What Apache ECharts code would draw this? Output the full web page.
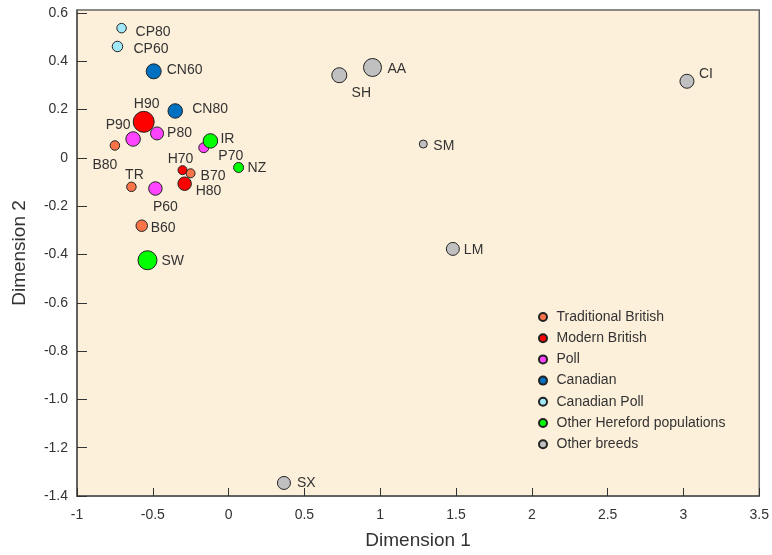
<!DOCTYPE html>
<html>
<head>
<meta charset="utf-8">
<script src="https://cdn.jsdelivr.net/npm/echarts@6/dist/echarts.min.js"></script>
<style>
  html, body { margin: 0; padding: 0; background: #fff; }
  #chart { width: 772px; height: 555px; }
</style>
</head>
<body>
<div id="chart"></div>
<script>
// Population groups (legend order)
const groups = ['Traditional British', 'Modern British', 'Poll', 'Canadian', 'Canadian Poll', 'Other Hereford populations', 'Other breeds'];
const groupColors = ['#fa7448', '#ff0000', '#ff44ff', '#0070c0', '#a0e8f8', '#00ff00', '#c0c0c0'];

// Populations and their MDS coordinates
const populations = ['B60', 'B70', 'B80', 'TR', 'H70', 'H80', 'H90', 'P60', 'P70', 'P80', 'P90', 'CN60', 'CN80', 'CP60', 'CP80', 'IR', 'NZ', 'SW', 'AA', 'CI', 'LM', 'SH', 'SM', 'SX'];
const groupIndex = [0, 0, 0, 0, 1, 1, 1, 2, 2, 2, 2, 3, 3, 4, 4, 5, 5, 5, 6, 6, 6, 6, 6, 6];
const dim1 = [-0.573, -0.251, -0.750, -0.641, -0.304, -0.290, -0.560, -0.483, -0.164, -0.472, -0.630, -0.494, -0.352, -0.733, -0.706, -0.120, 0.066, -0.535, 0.949, 3.023, 1.479, 0.730, 1.284, 0.365];
const dim2 = [-0.281, -0.064, 0.051, -0.120, -0.051, -0.107, 0.149, -0.127, 0.042, 0.101, 0.078, 0.358, 0.194, 0.461, 0.537, 0.070, -0.040, -0.424, 0.374, 0.317, -0.377, 0.342, 0.057, -1.346];

// Tick labels
const xTicks = ['-1', '-0.5', '0', '0.5', '1', '1.5', '2', '2.5', '3', '3.5'];
const yTicks = ['-1.4', '-1.2', '-1.0', '-0.8', '-0.6', '-0.4', '-0.2', '0', '0.2', '0.4', '0.6'];

// Marker diameters (px)
const markerSize = [12.5, 10, 10.5, 10.5, 10, 14.5, 22, 14.5, 11, 14, 15.5, 16, 15.5, 11.5, 10.5, 15.5, 11, 20, 19, 15, 14, 16, 9, 14];

// Label placement: [align, dx, dy] from marker centre
const labelPlace = {
  B60: ['left', 9, 2], B70: ['left', 10, 3], B80: ['center', -10, 20], TR: ['center', 3, -12],
  H70: ['center', -2, -11], H80: ['left', 11, 7], H90: ['center', 3, -18],
  P60: ['center', 10, 19], P70: ['center', 27, 8], P80: ['left', 10, 0], P90: ['center', -15, -14],
  CN60: ['left', 13, -1], CN80: ['left', 17, -2], CP60: ['left', 16, 3], CP80: ['left', 14, 4],
  IR: ['left', 10, -2], NZ: ['left', 9, 1], SW: ['left', 14, 1],
  AA: ['left', 15, 2], CI: ['left', 12, -7], LM: ['left', 11, 1], SH: ['center', 22, 18], SM: ['left', 10, 2], SX: ['left', 13, 0]
};

const font = 'Arial, "Liberation Sans", sans-serif';

const series = groups.map((g, gi) => {
  const data = [];
  populations.forEach((p, i) => {
    if (groupIndex[i] !== gi) return;
    const lp = labelPlace[p];
    data.push({
      name: p,
      value: [dim1[i], dim2[i]],
      symbolSize: markerSize[i] - 1,
      label: { align: lp[0], offset: [lp[1], lp[2]] }
    });
  });
  return {
    name: g,
    type: 'scatter',
    symbol: 'circle',
    data: data,
    itemStyle: { color: groupColors[gi], borderColor: '#222', borderWidth: 1, opacity: 1 },
    label: {
      show: true,
      position: 'inside',
      verticalAlign: 'middle',
      formatter: '{b}',
      color: '#333',
      fontSize: 14,
      fontFamily: font,
      textBorderWidth: 0
    },
    emphasis: { disabled: true },
    z: 2 + gi
  };
});

const chart = echarts.init(document.getElementById('chart'), null, { renderer: 'canvas' });
chart.setOption({
  animation: false,
  backgroundColor: '#ffffff',
  grid: {
    left: 77, right: 10, top: 10, bottom: 54,
    show: true,
    backgroundColor: '#fdf0db',
    borderColor: '#666',
    borderWidth: 1.5
  },
  legend: {
    orient: 'vertical',
    left: 538,
    top: 310,
    padding: 0,
    itemWidth: 17,
    itemHeight: 8,
    itemGap: 7.2,
    icon: 'circle',
    textStyle: { fontSize: 14, lineHeight: 14, color: '#333', fontFamily: font },
    data: groups
  },
  xAxis: {
    type: 'value',
    min: -1,
    max: 3.5,
    interval: 0.5,
    name: 'Dimension 1',
    nameLocation: 'middle',
    nameGap: 35,
    nameTextStyle: { fontSize: 19, color: '#333', fontFamily: font },
    axisLine: { show: true, onZero: false, lineStyle: { color: '#555', width: 1.5 } },
    axisTick: { show: true, inside: true, length: 8, lineStyle: { color: '#333' } },
    axisLabel: {
      margin: 12, fontSize: 14, color: '#333', fontFamily: font,
      formatter: v => xTicks[Math.round((v + 1) / 0.5)]
    },
    splitLine: { show: false }
  },
  yAxis: {
    type: 'value',
    min: -1.4,
    max: 0.612,
    interval: 0.2,
    name: 'Dimension 2',
    nameLocation: 'middle',
    nameGap: 48,
    nameTextStyle: { fontSize: 19, color: '#333', fontFamily: font },
    axisLine: { show: true, onZero: false, lineStyle: { color: '#555', width: 1.5 } },
    axisTick: { show: true, inside: true, length: 10, lineStyle: { color: '#333' } },
    axisLabel: {
      margin: 9, fontSize: 14, color: '#333', fontFamily: font, showMaxLabel: false,
      formatter: v => {
        const k = Math.round((v + 1.4) / 0.2);
        return Math.abs(v - (-1.4 + 0.2 * k)) < 1e-6 ? yTicks[k] : '';
      }
    },
    splitLine: { show: false }
  },
  series: series
});
</script>
</body>
</html>
